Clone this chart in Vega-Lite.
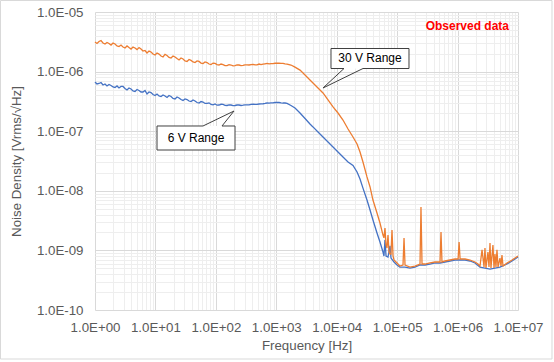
{
  "$schema": "https://vega.github.io/schema/vega-lite/v6.json",
  "autosize": {"type": "none"},
  "width": 423,
  "height": 298,
  "padding": {"left": 95, "top": 12, "right": 36, "bottom": 52},
  "background": "white",
  "config": {"view": {"stroke": null}, "font": "Liberation Sans"},
  "datasets": {
    "border": [{"f": 0.0273, "f2": 3.651e7, "v": 1.559e-5, "v2": 1.506e-11}],
    "v6": [
      {"f": 1, "v": 6.70e-7}, {"f": 1.165, "v": 6.32e-7}, {"f": 1.357, "v": 5.96e-7}, {"f": 1.58, "v": 5.74e-7},
      {"f": 1.84, "v": 5.85e-7}, {"f": 2.143, "v": 5.42e-7}, {"f": 2.496, "v": 5.31e-7}, {"f": 2.907, "v": 5.63e-7},
      {"f": 3.386, "v": 4.92e-7}, {"f": 3.944, "v": 5.11e-7}, {"f": 4.593, "v": 4.64e-7}, {"f": 5.35, "v": 4.82e-7},
      {"f": 6.231, "v": 4.55e-7}, {"f": 7.257, "v": 4.21e-7}, {"f": 8.452, "v": 4.46e-7}, {"f": 9.845, "v": 3.97e-7},
      {"f": 11.47, "v": 3.90e-7}, {"f": 13.36, "v": 4.05e-7}, {"f": 15.56, "v": 3.68e-7}, {"f": 18.12, "v": 3.82e-7},
      {"f": 21.1, "v": 3.47e-7}, {"f": 24.58, "v": 3.61e-7}, {"f": 28.63, "v": 3.28e-7}, {"f": 33.34, "v": 3.40e-7},
      {"f": 38.83, "v": 3.15e-7}, {"f": 45.23, "v": 3.21e-7}, {"f": 52.68, "v": 2.97e-7}, {"f": 61.36, "v": 3.09e-7},
      {"f": 71.46, "v": 2.92e-7}, {"f": 83.23, "v": 2.81e-7}, {"f": 96.94, "v": 2.86e-7}, {"f": 112.9, "v": 2.75e-7},
      {"f": 131.5, "v": 2.81e-7}, {"f": 153.2, "v": 2.70e-7}, {"f": 178.4, "v": 2.75e-7}, {"f": 207.8, "v": 2.70e-7},
      {"f": 242.0, "v": 2.75e-7}, {"f": 281.9, "v": 2.73e-7}, {"f": 328.3, "v": 2.77e-7}, {"f": 382.4, "v": 2.81e-7},
      {"f": 445.4, "v": 2.83e-7}, {"f": 518.7, "v": 2.86e-7}, {"f": 604.2, "v": 2.89e-7}, {"f": 703.7, "v": 2.97e-7},
      {"f": 819.6, "v": 2.99e-7}, {"f": 954.6, "v": 3.03e-7}, {"f": 1112, "v": 3.03e-7}, {"f": 1295, "v": 2.97e-7},
      {"f": 1508, "v": 2.92e-7},
      {"f": 1.079, "v": 6.20e-7}, {"f": 1.257, "v": 6.57e-7}, {"f": 1.464, "v": 6.20e-7}, {"f": 1.705, "v": 6.08e-7},
      {"f": 1.986, "v": 5.52e-7}, {"f": 2.313, "v": 5.74e-7}, {"f": 2.694, "v": 5.63e-7}, {"f": 3.138, "v": 5.21e-7},
      {"f": 3.654, "v": 5.31e-7}, {"f": 4.256, "v": 4.73e-7}, {"f": 4.957, "v": 5.01e-7}, {"f": 5.773, "v": 4.55e-7},
      {"f": 6.724, "v": 4.82e-7}, {"f": 7.831, "v": 4.55e-7}, {"f": 9.121, "v": 4.13e-7}, {"f": 10.62, "v": 4.21e-7},
      {"f": 12.37, "v": 3.82e-7}, {"f": 14.41, "v": 3.90e-7}, {"f": 16.78, "v": 3.97e-7}, {"f": 19.55, "v": 3.54e-7},
      {"f": 22.77, "v": 3.75e-7}, {"f": 26.52, "v": 3.40e-7}, {"f": 30.89, "v": 3.47e-7}, {"f": 35.97, "v": 3.21e-7},
      {"f": 41.9, "v": 3.34e-7}, {"f": 48.8, "v": 3.03e-7}, {"f": 56.84, "v": 3.15e-7}, {"f": 66.2, "v": 2.92e-7},
      {"f": 77.1, "v": 2.99e-7}, {"f": 89.8, "v": 2.77e-7}, {"f": 104.6, "v": 2.73e-7}, {"f": 121.8, "v": 2.83e-7},
      {"f": 141.9, "v": 2.71e-7}, {"f": 165.3, "v": 2.77e-7}, {"f": 192.5, "v": 2.69e-7}, {"f": 224.2, "v": 2.75e-7},
      {"f": 261.1, "v": 2.70e-7}, {"f": 304.1, "v": 2.77e-7}, {"f": 354.2, "v": 2.76e-7}, {"f": 412.5, "v": 2.84e-7},
      {"f": 480.5, "v": 2.81e-7}, {"f": 559.6, "v": 2.88e-7}, {"f": 651.8, "v": 2.92e-7}, {"f": 759.1, "v": 2.95e-7},
      {"f": 884.2, "v": 2.98e-7}, {"f": 1030, "v": 3.05e-7}, {"f": 1199, "v": 2.99e-7}, {"f": 1397, "v": 2.97e-7},
      {"f": 1750, "v": 2.70e-7}, {"f": 2040, "v": 2.45e-7}, {"f": 2470, "v": 2.02e-7}, {"f": 2990, "v": 1.63e-7},
      {"f": 3610, "v": 1.32e-7}, {"f": 4050, "v": 1.18e-7}, {"f": 4900, "v": 9.70e-8}, {"f": 5930, "v": 8.0e-8},
      {"f": 7180, "v": 6.59e-8}, {"f": 8690, "v": 5.43e-8}, {"f": 10500, "v": 4.48e-8}, {"f": 12700, "v": 3.69e-8},
      {"f": 15400, "v": 3.04e-8}, {"f": 18600, "v": 2.67e-8}, {"f": 21700, "v": 2.07e-8}, {"f": 24300, "v": 1.58e-8},
      {"f": 27200, "v": 1.11e-8}, {"f": 31700, "v": 7.0e-9}, {"f": 35600, "v": 4.76e-9}, {"f": 39800, "v": 3.24e-9},
      {"f": 46400, "v": 1.96e-9}, {"f": 52000, "v": 1.38e-9}, {"f": 58300, "v": 9.40e-10}, {"f": 60500, "v": 8.05e-10},
      {"f": 62900, "v": 1.49e-9}, {"f": 65500, "v": 8.05e-10}, {"f": 70600, "v": 7.75e-10}, {"f": 76200, "v": 1.19e-9},
      {"f": 79100, "v": 7.45e-10}, {"f": 88700, "v": 6.39e-10}, {"f": 99500, "v": 5.69e-10}, {"f": 111000, "v": 5.26e-10},
      {"f": 135000, "v": 5.26e-10}, {"f": 163000, "v": 5.06e-10}, {"f": 197000, "v": 5.26e-10}, {"f": 239000, "v": 5.69e-10},
      {"f": 289000, "v": 5.69e-10}, {"f": 350000, "v": 5.91e-10}, {"f": 423000, "v": 6.15e-10}, {"f": 512000, "v": 6.15e-10},
      {"f": 619000, "v": 6.39e-10}, {"f": 749000, "v": 6.64e-10}, {"f": 907000, "v": 6.90e-10}, {"f": 1100000, "v": 6.90e-10},
      {"f": 1330000, "v": 6.90e-10}, {"f": 1610000, "v": 6.64e-10}, {"f": 1940000, "v": 6.15e-10}, {"f": 2350000, "v": 5.26e-10},
      {"f": 2840000, "v": 5.06e-10}, {"f": 3440000, "v": 4.87e-10}, {"f": 4160000, "v": 5.06e-10}, {"f": 5030000, "v": 5.26e-10},
      {"f": 6580000, "v": 5.91e-10}, {"f": 7960000, "v": 6.64e-10}, {"f": 10000000, "v": 7.75e-10}
    ],
    "v30": [
      {"f": 1, "v": 3.14e-6}, {"f": 1.165, "v": 3.20e-6}, {"f": 1.357, "v": 3.02e-6}, {"f": 1.58, "v": 3.08e-6},
      {"f": 1.84, "v": 2.79e-6}, {"f": 2.143, "v": 2.90e-6}, {"f": 2.496, "v": 2.63e-6}, {"f": 2.907, "v": 2.58e-6},
      {"f": 3.386, "v": 2.69e-6}, {"f": 3.944, "v": 2.39e-6}, {"f": 4.593, "v": 2.49e-6}, {"f": 5.35, "v": 2.53e-6},
      {"f": 6.231, "v": 2.21e-6}, {"f": 7.257, "v": 2.05e-6}, {"f": 8.452, "v": 2.13e-6}, {"f": 9.845, "v": 1.90e-6},
      {"f": 11.47, "v": 1.97e-6}, {"f": 13.36, "v": 1.76e-6}, {"f": 15.56, "v": 1.86e-6}, {"f": 18.12, "v": 1.69e-6},
      {"f": 21.1, "v": 1.76e-6}, {"f": 24.58, "v": 1.57e-6}, {"f": 28.63, "v": 1.63e-6}, {"f": 33.34, "v": 1.48e-6},
      {"f": 38.83, "v": 1.54e-6}, {"f": 45.23, "v": 1.42e-6}, {"f": 52.68, "v": 1.48e-6}, {"f": 61.36, "v": 1.37e-6},
      {"f": 71.46, "v": 1.42e-6}, {"f": 83.23, "v": 1.31e-6}, {"f": 96.94, "v": 1.37e-6}, {"f": 112.9, "v": 1.29e-6},
      {"f": 131.5, "v": 1.31e-6}, {"f": 153.2, "v": 1.26e-6}, {"f": 178.4, "v": 1.29e-6}, {"f": 207.8, "v": 1.26e-6},
      {"f": 242.0, "v": 1.29e-6}, {"f": 281.9, "v": 1.27e-6}, {"f": 328.3, "v": 1.30e-6}, {"f": 382.4, "v": 1.31e-6},
      {"f": 445.4, "v": 1.30e-6}, {"f": 518.7, "v": 1.34e-6}, {"f": 604.2, "v": 1.33e-6}, {"f": 703.7, "v": 1.37e-6},
      {"f": 819.6, "v": 1.36e-6}, {"f": 954.6, "v": 1.38e-6}, {"f": 1112, "v": 1.38e-6}, {"f": 1295, "v": 1.37e-6},
      {"f": 1508, "v": 1.34e-6},
      {"f": 1.079, "v": 2.96e-6}, {"f": 1.257, "v": 3.32e-6}, {"f": 1.464, "v": 2.90e-6}, {"f": 1.705, "v": 2.96e-6},
      {"f": 1.986, "v": 3.02e-6}, {"f": 2.313, "v": 2.69e-6}, {"f": 2.694, "v": 2.79e-6}, {"f": 3.138, "v": 2.49e-6},
      {"f": 3.654, "v": 2.53e-6}, {"f": 4.256, "v": 2.58e-6}, {"f": 4.957, "v": 2.34e-6}, {"f": 5.773, "v": 2.39e-6},
      {"f": 6.724, "v": 2.26e-6}, {"f": 7.831, "v": 2.21e-6}, {"f": 9.121, "v": 1.97e-6}, {"f": 10.62, "v": 2.05e-6},
      {"f": 12.37, "v": 1.83e-6}, {"f": 14.41, "v": 1.94e-6}, {"f": 16.78, "v": 1.73e-6}, {"f": 19.55, "v": 1.83e-6},
      {"f": 22.77, "v": 1.66e-6}, {"f": 26.52, "v": 1.69e-6}, {"f": 30.89, "v": 1.51e-6}, {"f": 35.97, "v": 1.60e-6},
      {"f": 41.9, "v": 1.45e-6}, {"f": 48.8, "v": 1.51e-6}, {"f": 56.84, "v": 1.39e-6}, {"f": 66.2, "v": 1.45e-6},
      {"f": 77.1, "v": 1.34e-6}, {"f": 89.8, "v": 1.39e-6}, {"f": 104.6, "v": 1.31e-6}, {"f": 121.8, "v": 1.34e-6},
      {"f": 141.9, "v": 1.26e-6}, {"f": 165.3, "v": 1.31e-6}, {"f": 192.5, "v": 1.25e-6}, {"f": 224.2, "v": 1.30e-6},
      {"f": 261.1, "v": 1.26e-6}, {"f": 304.1, "v": 1.30e-6}, {"f": 354.2, "v": 1.29e-6}, {"f": 412.5, "v": 1.32e-6},
      {"f": 480.5, "v": 1.30e-6}, {"f": 559.6, "v": 1.31e-6}, {"f": 651.8, "v": 1.35e-6}, {"f": 759.1, "v": 1.35e-6},
      {"f": 884.2, "v": 1.36e-6}, {"f": 1030, "v": 1.38e-6}, {"f": 1199, "v": 1.37e-6}, {"f": 1397, "v": 1.35e-6},
      {"f": 1750, "v": 1.29e-6}, {"f": 2040, "v": 1.19e-6}, {"f": 2470, "v": 1.06e-6}, {"f": 2990, "v": 8.77e-7},
      {"f": 3610, "v": 7.23e-7}, {"f": 4050, "v": 6.44e-7}, {"f": 4900, "v": 5.31e-7}, {"f": 5930, "v": 4.38e-7},
      {"f": 7180, "v": 3.34e-7}, {"f": 8690, "v": 2.55e-7}, {"f": 10500, "v": 2.02e-7}, {"f": 12700, "v": 1.54e-7},
      {"f": 15400, "v": 1.09e-7}, {"f": 18600, "v": 8.0e-8}, {"f": 21700, "v": 6.09e-8}, {"f": 24300, "v": 4.48e-8},
      {"f": 27200, "v": 3.04e-8}, {"f": 31700, "v": 1.71e-8}, {"f": 35600, "v": 1.16e-8}, {"f": 39800, "v": 7.0e-9},
      {"f": 46400, "v": 4.24e-9}, {"f": 52000, "v": 2.88e-9}, {"f": 58300, "v": 1.81e-9}, {"f": 60500, "v": 1.62e-9},
      {"f": 62900, "v": 2.38e-9}, {"f": 65500, "v": 1.23e-9}, {"f": 67900, "v": 1.10e-9}, {"f": 70600, "v": 1.81e-9},
      {"f": 73300, "v": 9.40e-10}, {"f": 76200, "v": 8.70e-10}, {"f": 79100, "v": 8.70e-10}, {"f": 82200, "v": 2.20e-9},
      {"f": 85500, "v": 8.05e-10}, {"f": 88700, "v": 6.90e-10}, {"f": 99500, "v": 6.15e-10}, {"f": 111000, "v": 5.47e-10},
      {"f": 125000, "v": 5.69e-10}, {"f": 130000, "v": 1.62e-9}, {"f": 135000, "v": 5.69e-10}, {"f": 163000, "v": 5.26e-10},
      {"f": 197000, "v": 5.47e-10}, {"f": 239000, "v": 5.91e-10}, {"f": 248000, "v": 5.34e-9}, {"f": 258000, "v": 5.91e-10},
      {"f": 289000, "v": 5.91e-10}, {"f": 350000, "v": 6.15e-10}, {"f": 423000, "v": 6.39e-10}, {"f": 512000, "v": 6.39e-10},
      {"f": 532000, "v": 2.04e-9}, {"f": 552000, "v": 6.39e-10}, {"f": 619000, "v": 6.64e-10}, {"f": 749000, "v": 6.90e-10},
      {"f": 907000, "v": 7.17e-10}, {"f": 1020000, "v": 7.17e-10}, {"f": 1060000, "v": 1.38e-9}, {"f": 1100000, "v": 7.17e-10},
      {"f": 1330000, "v": 7.17e-10}, {"f": 1610000, "v": 6.90e-10}, {"f": 1940000, "v": 6.39e-10}, {"f": 2180000, "v": 5.91e-10},
      {"f": 2350000, "v": 5.47e-10}, {"f": 2540000, "v": 1.02e-9}, {"f": 2740000, "v": 5.26e-10}, {"f": 2840000, "v": 1.10e-9},
      {"f": 2950000, "v": 5.06e-10}, {"f": 3180000, "v": 9.40e-10}, {"f": 3310000, "v": 5.26e-10}, {"f": 3440000, "v": 1.33e-9},
      {"f": 3570000, "v": 5.06e-10}, {"f": 3850000, "v": 1.23e-9}, {"f": 4010000, "v": 5.06e-10}, {"f": 4160000, "v": 8.70e-10},
      {"f": 4320000, "v": 5.26e-10}, {"f": 4490000, "v": 1.02e-9}, {"f": 4670000, "v": 5.26e-10}, {"f": 5030000, "v": 7.45e-10},
      {"f": 5230000, "v": 5.47e-10}, {"f": 5430000, "v": 8.37e-10}, {"f": 5650000, "v": 5.47e-10}, {"f": 6580000, "v": 6.15e-10},
      {"f": 7960000, "v": 6.90e-10}, {"f": 10000000, "v": 8.05e-10}
    ],
    "boxes": [
      {"f": 8043, "f2": 157100, "v": 2.441e-6, "v2": 1.127e-6},
      {"f": 10.62, "f2": 207.4, "v": 1.223e-7, "v2": 4.836e-8}
    ],
    "outlines": [
      {"c": "a", "o": 0, "f": 8043, "v": 2.441e-6},
      {"c": "a", "o": 1, "f": 157100, "v": 2.441e-6},
      {"c": "a", "o": 2, "f": 157100, "v": 1.127e-6},
      {"c": "a", "o": 3, "f": 27220, "v": 1.127e-6},
      {"c": "a", "o": 4, "f": 5929, "v": 5.306e-7},
      {"c": "a", "o": 5, "f": 13200, "v": 1.127e-6},
      {"c": "a", "o": 6, "f": 8043, "v": 1.127e-6},
      {"c": "a", "o": 7, "f": 8043, "v": 2.441e-6},
      {"c": "b", "o": 0, "f": 10.62, "v": 1.223e-7},
      {"c": "b", "o": 1, "f": 61.27, "v": 1.223e-7},
      {"c": "b", "o": 2, "f": 199.7, "v": 2.182e-7},
      {"c": "b", "o": 3, "f": 126.4, "v": 1.223e-7},
      {"c": "b", "o": 4, "f": 207.4, "v": 1.223e-7},
      {"c": "b", "o": 5, "f": 207.4, "v": 4.836e-8},
      {"c": "b", "o": 6, "f": 10.62, "v": 4.836e-8},
      {"c": "b", "o": 7, "f": 10.62, "v": 1.223e-7}
    ],
    "labels": [
      {"f": 35540, "v": 1.659e-6, "t": "30 V Range"},
      {"f": 46.93, "v": 7.69e-8, "t": "6 V Range"}
    ],
    "note": [{"f": 7100000, "v": 5.82e-6, "t": "Observed data"}]
  },
  "encoding": {
    "x": {
      "field": "f", "type": "quantitative",
      "scale": {"type": "log", "domain": [1, 10000000], "nice": false},
      "axis": {
        "title": "Frequency [Hz]",
        "values": [1,2,3,4,5,6,7,8,9,10,20,30,40,50,60,70,80,90,100,200,300,400,500,600,700,800,900,1000,2000,3000,4000,5000,6000,7000,8000,9000,10000,20000,30000,40000,50000,60000,70000,80000,90000,100000,200000,300000,400000,500000,600000,700000,800000,900000,1000000,2000000,3000000,4000000,5000000,6000000,7000000,8000000,9000000,10000000],
        "labelExpr": "abs(log(datum.value)/LN10 - round(log(datum.value)/LN10)) < 0.001 ? ('1.0E' + (datum.value >= 1 ? '+' : '-') + (abs(round(log(datum.value)/LN10)) < 10 ? '0' : '') + abs(round(log(datum.value)/LN10))) : ''",
        "grid": true,
        "gridColor": {"condition": {"test": "abs(log(datum.value)/LN10 - round(log(datum.value)/LN10)) < 0.001", "value": "#d9d9d9"}, "value": "#eeeeee"},
        "gridWidth": 1,
        "ticks": false, "tickSize": 0, "domain": false,
        "labelOverlap": false, "labelFlush": false, "labelBound": false,
        "labelPadding": 10, "labelFont": "Liberation Sans", "labelFontSize": 13.3, "labelColor": "#595959",
        "titleFont": "Liberation Sans", "titleFontSize": 13.3, "titleFontWeight": "normal", "titleColor": "#595959",
        "titleY": 35, "titleBaseline": "middle"
      }
    },
    "y": {
      "field": "v", "type": "quantitative",
      "scale": {"type": "log", "domain": [1e-10, 1e-5], "nice": false},
      "axis": {
        "title": "Noise Density [Vrms/√Hz]",
        "values": [1e-10,2e-10,3e-10,4e-10,5e-10,6e-10,7e-10,8e-10,9e-10,1e-9,2e-9,3e-9,4e-9,5e-9,6e-9,7e-9,8e-9,9e-9,1e-8,2e-8,3e-8,4e-8,5e-8,6e-8,7e-8,8e-8,9e-8,1e-7,2e-7,3e-7,4e-7,5e-7,6e-7,7e-7,8e-7,9e-7,1e-6,2e-6,3e-6,4e-6,5e-6,6e-6,7e-6,8e-6,9e-6,1e-5],
        "labelExpr": "abs(log(datum.value)/LN10 - round(log(datum.value)/LN10)) < 0.001 ? ('1.0E' + (datum.value >= 1 ? '+' : '-') + (abs(round(log(datum.value)/LN10)) < 10 ? '0' : '') + abs(round(log(datum.value)/LN10))) : ''",
        "grid": true,
        "gridColor": {"condition": {"test": "abs(log(datum.value)/LN10 - round(log(datum.value)/LN10)) < 0.001", "value": "#d9d9d9"}, "value": "#eeeeee"},
        "gridWidth": 1,
        "ticks": false, "tickSize": 0, "domain": false,
        "labelOverlap": false, "labelFlush": false, "labelBound": false,
        "labelPadding": 12, "labelFont": "Liberation Sans", "labelFontSize": 13.3, "labelColor": "#595959",
        "titleFont": "Liberation Sans", "titleFontSize": 13.3, "titleFontWeight": "normal", "titleColor": "#595959",
        "titleX": -79, "titleY": 149, "titleBaseline": "middle", "titleAngle": -90
      }
    }
  },
  "layer": [
    {
      "data": {"name": "border"},
      "mark": {"type": "rect", "fill": null, "stroke": "#d9d9d9", "strokeWidth": 1, "clip": false},
      "encoding": {"x2": {"field": "f2"}, "y2": {"field": "v2"}}
    },
    {
      "data": {"name": "v6"},
      "mark": {"type": "line", "color": "#4472C4", "strokeWidth": 1.3}
    },
    {
      "data": {"name": "v30"},
      "mark": {"type": "line", "color": "#ED7D31", "strokeWidth": 1.3}
    },
    {
      "data": {"name": "boxes"},
      "mark": {"type": "rect", "fill": "white", "stroke": null},
      "encoding": {"x2": {"field": "f2"}, "y2": {"field": "v2"}}
    },
    {
      "data": {"name": "outlines"},
      "mark": {"type": "line", "color": "#404040", "strokeWidth": 1},
      "encoding": {"detail": {"field": "c"}, "order": {"field": "o", "type": "quantitative"}}
    },
    {
      "data": {"name": "labels"},
      "mark": {"type": "text", "font": "Liberation Sans", "fontSize": 12, "color": "black", "align": "center", "baseline": "middle"},
      "encoding": {"text": {"field": "t"}}
    },
    {
      "data": {"name": "note"},
      "mark": {"type": "text", "font": "Liberation Sans", "fontSize": 12, "fontWeight": "bold", "color": "#ff0000", "align": "right", "baseline": "middle"},
      "encoding": {"text": {"field": "t"}}
    }
  ]
}
